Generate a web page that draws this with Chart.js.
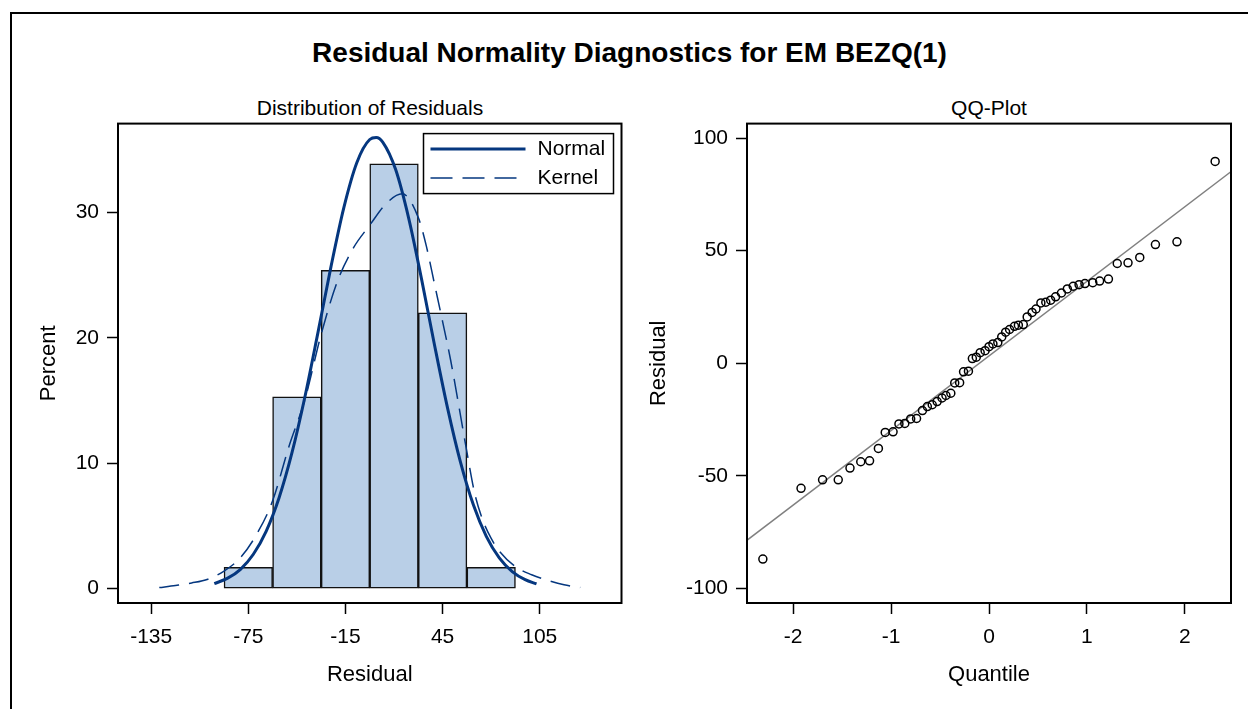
<!DOCTYPE html>
<html>
<head>
<meta charset="utf-8">
<script src="https://cdn.jsdelivr.net/npm/chart.js@4.4.1/dist/chart.umd.min.js"></script>
<style>
  html, body { margin: 0; padding: 0; background: #fff; overflow: hidden; }
  body { width: 1248px; height: 709px; position: relative; font-family: 'Liberation Sans', Arial, sans-serif; color: #000; }
  #frame { position: absolute; left: 10px; top: 12px; width: 1300px; height: 800px; border: 2px solid #000; box-sizing: border-box; }
  .title { position: absolute; left: 0; width: 1259px; top: 39px; text-align: center; font-weight: bold; font-size: 28px; line-height: 28px; }
  .sub { position: absolute; top: 97px; font-size: 21px; line-height: 21px; text-align: center; }
  #histBox { position: absolute; left: 20px; top: 103px; width: 615px; height: 600px; }
  #qqBox { position: absolute; left: 640px; top: 103px; width: 608px; height: 600px; }
</style>
</head>
<body>
<div id="frame"></div>
<div class="title">Residual Normality Diagnostics for EM BEZQ(1)</div>
<div class="sub" style="left:118px; width:504px;">Distribution of Residuals</div>
<div class="sub" style="left:747px; width:484px;">QQ-Plot</div>
<div id="histBox"><canvas id="histChart"></canvas></div>
<div id="qqBox"><canvas id="qqChart"></canvas></div>

<script>
// histogram: bin midpoints (width 30) and percent of residuals
const binMid = [-75, -45, -15, 15, 45, 75];
const binPct = [1.7, 15.3, 25.4, 33.9, 22.0, 1.7];

// fitted normal density, scaled to percent per bin
const normalX = [-96, -88, -80, -72, -64, -56, -48, -40, -32, -24, -16, -8, 0, 4, 8, 16, 24, 32, 40, 48, 56, 64, 72, 80, 88, 96, 103];
const normalPct = [0.40, 0.81, 1.52, 2.72, 4.57, 7.25, 10.86, 15.33, 20.42, 25.65, 30.40, 33.98, 35.83, 35.99, 35.63, 33.43, 29.58, 24.69, 19.44, 14.44, 10.11, 6.68, 4.17, 2.45, 1.36, 0.71, 0.38];

// kernel density estimate
const kernelX = [-130, -120, -110, -100, -90, -80, -70, -60, -50, -40, -30, -20, -10, 0, 10, 20, 30, 35, 40, 45, 50, 55, 60, 65, 70, 75, 80, 90, 100, 110, 120, 130];
const kernelPct = [0.08, 0.25, 0.45, 0.75, 1.4, 2.45, 4.3, 7.0, 11.3, 15.1, 20.3, 24.5, 27.2, 29.0, 30.7, 31.5, 29.6, 27.3, 24.3, 21.3, 18.2, 14.6, 10.9, 7.5, 5.4, 4.0, 3.0, 1.75, 1.1, 0.65, 0.3, 0.08];

const histXTicks = [-135, -75, -15, 45, 105];
const histYTicks = [0, 10, 20, 30];

// QQ plot: normal quantiles vs sorted residuals
const qqQuantile = [-2.31, -1.92, -1.70, -1.54, -1.42, -1.31, -1.22, -1.13, -1.06, -0.98,
  -0.92, -0.86, -0.80, -0.74, -0.68, -0.63, -0.58, -0.53, -0.48, -0.44,
  -0.39, -0.35, -0.30, -0.26, -0.21, -0.17, -0.13, -0.09, -0.04, 0.00,
  0.04, 0.09, 0.13, 0.17, 0.21, 0.26, 0.30, 0.35, 0.39, 0.44,
  0.48, 0.53, 0.58, 0.63, 0.68, 0.74, 0.80, 0.86, 0.92, 0.98,
  1.06, 1.13, 1.22, 1.31, 1.42, 1.54, 1.70, 1.92, 2.31];
const qqResidual = [-86.9, -55.5, -51.7, -51.7, -46.5, -43.7, -43.3, -37.8, -30.7, -30.4,
  -26.9, -26.7, -24.7, -24.5, -21.0, -19.2, -18.4, -17.0, -15.4, -14.3,
  -13.3, -8.7, -8.6, -3.8, -3.5, 2.1, 2.7, 4.7, 5.6, 7.4,
  8.6, 9.2, 11.7, 13.8, 15.0, 16.4, 16.9, 17.2, 20.6, 22.6,
  24.1, 26.8, 27.1, 28.0, 29.5, 31.2, 33.0, 34.2, 34.9, 35.4,
  35.8, 36.5, 37.4, 44.3, 44.6, 47.0, 52.7, 53.9, 89.6];
// reference line (mean + sd * quantile) at the two ends
const refLineX = [-2.5, 2.5];
const refLineY = [-79.5, 86.0];

const qqXTicks = [-2, -1, 0, 1, 2];
const qqYTicks = [-100, -50, 0, 50, 100];

const curveBlue = '#05377f';
const barFill = '#b9cfe7';

Chart.defaults.font.family = "'Liberation Sans', Arial, sans-serif";
Chart.defaults.color = '#000';
Chart.defaults.animation = false;

const framePlugin = {
  id: 'frame',
  afterDraw(chart) {
    const { ctx, chartArea: a } = chart;
    ctx.save();
    ctx.strokeStyle = '#000';
    ctx.lineWidth = 2;
    ctx.strokeRect(a.left, a.top, a.right - a.left, a.bottom - a.top);
    ctx.restore();
  }
};

// legend box in the upper right of the histogram
const curveLegend = {
  id: 'curveLegend',
  afterDraw(chart) {
    const { ctx, chartArea: a } = chart;
    const w = 190, h = 60;
    const left = a.right - 8 - w, top = a.top + 10;
    ctx.save();
    ctx.fillStyle = '#fff';
    ctx.fillRect(left, top, w, h);
    ctx.strokeStyle = '#000';
    ctx.lineWidth = 1.5;
    ctx.strokeRect(left, top, w, h);

    ctx.strokeStyle = curveBlue;
    ctx.lineWidth = 3;
    ctx.beginPath();
    ctx.moveTo(left + 7, top + 15.5);
    ctx.lineTo(left + 102, top + 15.5);
    ctx.stroke();

    ctx.lineWidth = 1.5;
    ctx.setLineDash([22, 10]);
    ctx.beginPath();
    ctx.moveTo(left + 7, top + 44.5);
    ctx.lineTo(left + 102, top + 44.5);
    ctx.stroke();
    ctx.setLineDash([]);

    ctx.fillStyle = '#000';
    ctx.font = "21px 'Liberation Sans', Arial, sans-serif";
    ctx.textBaseline = 'middle';
    ctx.fillText('Normal', left + 114, top + 16);
    ctx.fillText('Kernel', left + 114, top + 45);
    ctx.restore();
  }
};

function fixedTicks(values) {
  return scale => { scale.ticks = values.map(v => ({ value: v })); };
}

const tickGrid = { display: true, offset: false, drawOnChartArea: false, drawTicks: true, tickLength: 11, tickWidth: 1.5, tickColor: '#000' };

new Chart(document.getElementById('histChart'), {
  data: {
    datasets: [
      {
        type: 'line',
        label: 'Normal',
        data: normalX.map((x, i) => ({ x: x, y: normalPct[i] })),
        borderColor: curveBlue,
        borderWidth: 3,
        pointRadius: 0,
        cubicInterpolationMode: 'monotone',
        order: 1
      },
      {
        type: 'line',
        label: 'Kernel',
        data: kernelX.map((x, i) => ({ x: x, y: kernelPct[i] })),
        borderColor: curveBlue,
        borderWidth: 1.5,
        borderDash: [20, 10],
        pointRadius: 0,
        cubicInterpolationMode: 'monotone',
        order: 2
      },
      {
        type: 'bar',
        label: 'Percent',
        data: binMid.map((x, i) => ({ x: x, y: binPct[i] })),
        backgroundColor: barFill,
        borderColor: '#111',
        borderWidth: 1.5,
        borderSkipped: false,
        barPercentage: 1,
        categoryPercentage: 1,
        order: 3
      }
    ]
  },
  options: {
    responsive: true,
    maintainAspectRatio: false,
    layout: { padding: { top: 10, right: 13.5, left: 0, bottom: 0 } },
    plugins: { legend: { display: false }, tooltip: { enabled: false } },
    scales: {
      x: {
        type: 'linear',
        min: -155.5,
        max: 155.5,
        offset: false,
        afterBuildTicks: fixedTicks(histXTicks),
        afterFit: s => { s.height = 100; },
        ticks: { font: { size: 21 }, padding: 11, maxRotation: 0 },
        grid: tickGrid,
        border: { display: false },
        title: { display: true, text: 'Residual', font: { size: 22 }, padding: { top: 0, bottom: 15 } }
      },
      y: {
        type: 'linear',
        min: -1.15,
        max: 37.1,
        afterBuildTicks: fixedTicks(histYTicks),
        afterFit: s => { s.width = 98; },
        ticks: { font: { size: 21 }, padding: 8 },
        grid: tickGrid,
        border: { display: false },
        title: { display: true, text: 'Percent', font: { size: 22 }, padding: { top: 16, bottom: 0 } }
      }
    }
  },
  plugins: [framePlugin, curveLegend]
});

new Chart(document.getElementById('qqChart'), {
  data: {
    datasets: [
      {
        type: 'scatter',
        label: 'Residual',
        data: qqQuantile.map((q, i) => ({ x: q, y: qqResidual[i] })),
        pointStyle: 'circle',
        pointRadius: 4,
        pointBorderWidth: 1.5,
        pointBorderColor: '#000',
        pointBackgroundColor: 'rgba(0,0,0,0)',
        order: 1
      },
      {
        type: 'line',
        label: 'Reference',
        data: refLineX.map((x, i) => ({ x: x, y: refLineY[i] })),
        borderColor: '#808080',
        borderWidth: 1.5,
        pointRadius: 0,
        order: 2
      }
    ]
  },
  options: {
    responsive: true,
    maintainAspectRatio: false,
    layout: { padding: { top: 10, right: 17, left: 0, bottom: 0 } },
    plugins: { legend: { display: false }, tooltip: { enabled: false } },
    scales: {
      x: {
        type: 'linear',
        min: -2.472,
        max: 2.472,
        afterBuildTicks: fixedTicks(qqXTicks),
        afterFit: s => { s.height = 100; },
        ticks: { font: { size: 21 }, padding: 11, maxRotation: 0 },
        grid: tickGrid,
        border: { display: false },
        title: { display: true, text: 'Quantile', font: { size: 22 }, padding: { top: 0, bottom: 15 } }
      },
      y: {
        type: 'linear',
        min: -106.4,
        max: 106.4,
        afterBuildTicks: fixedTicks(qqYTicks),
        afterFit: s => { s.width = 107; },
        ticks: { font: { size: 21 }, padding: 8 },
        grid: tickGrid,
        border: { display: false },
        title: { display: true, text: 'Residual', font: { size: 22 }, padding: { top: 6, bottom: 0 } }
      }
    }
  },
  plugins: [framePlugin]
});
</script>
</body>
</html>
